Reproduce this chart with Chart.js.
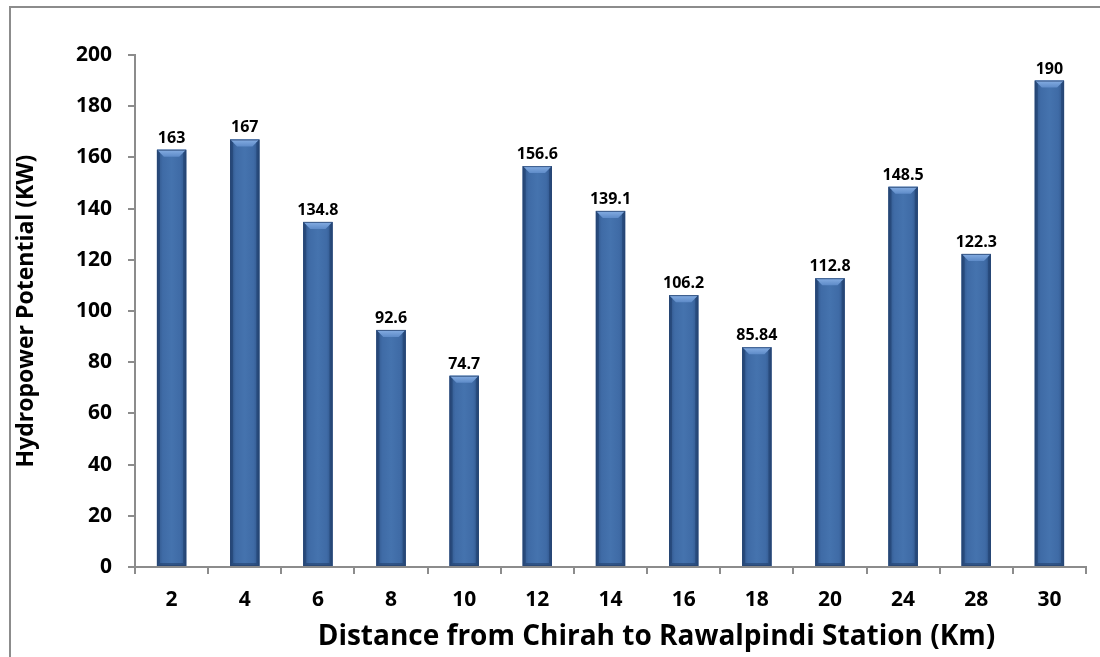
<!DOCTYPE html>
<html>
<head>
<meta charset="utf-8">
<script src="https://cdn.jsdelivr.net/npm/chart.js@4"></script>
<style>
  html, body { margin: 0; padding: 0; background: #fff; }
  #wrap { position: relative; width: 1100px; height: 657px; overflow: hidden; }
  #frame { position: absolute; left: 9px; top: 6px; width: 1200px; height: 800px;
           border-top: 2px solid #8c8c8c; border-left: 2px solid #8c8c8c; }
  canvas { position: absolute; left: 0; top: 0; }
</style>
</head>
<body>
<div id="wrap">
  <div id="frame"></div>
  <canvas id="chart" width="1100" height="657"></canvas>
</div>
<script>
const distances = ["2", "4", "6", "8", "10", "12", "14", "16", "18", "20", "24", "28", "30"];
const potential = [163, 167, 134.8, 92.6, 74.7, 156.6, 139.1, 106.2, 85.84, 112.8, 148.5, 122.3, 190];
const xTitle = "Distance from Chirah to Rawalpindi Station (Km)";

const FONT = "'Open Sans', Lato, sans-serif";

// bevelled look for each bar plus the value above it
const barStyle = {
    id: "barStyle",
    afterDatasetsDraw(chart) {
        const ctx = chart.ctx;
        const meta = chart.getDatasetMeta(0);
        meta.data.forEach(function (bar, i) {
            const left = bar.x - bar.width / 2;
            const right = bar.x + bar.width / 2;
            const top = bar.y;
            const bottom = bar.base;
            const w = bar.width;
            const b = 7;

            ctx.save();
            // body shading across the width
            const g = ctx.createLinearGradient(left, 0, right, 0);
            g.addColorStop(0, "#2f5488");
            g.addColorStop(0.2, "#3f6ba6");
            g.addColorStop(0.5, "#4573ae");
            g.addColorStop(0.8, "#3f6ba6");
            g.addColorStop(1, "#2f5488");
            ctx.fillStyle = g;
            ctx.fillRect(left, top, w, bottom - top);

            // top bevel
            const tg = ctx.createLinearGradient(0, top, 0, top + b);
            tg.addColorStop(0, "#86aee3");
            tg.addColorStop(1, "#5e8bc8");
            ctx.fillStyle = tg;
            ctx.beginPath();
            ctx.moveTo(left, top);
            ctx.lineTo(right, top);
            ctx.lineTo(right - b, top + b);
            ctx.lineTo(left + b, top + b);
            ctx.closePath();
            ctx.fill();

            // side bevels
            ctx.fillStyle = "rgba(30,60,105,0.55)";
            ctx.beginPath();
            ctx.moveTo(left, top);
            ctx.lineTo(left + 3, top + 3);
            ctx.lineTo(left + 3, bottom - 3);
            ctx.lineTo(left, bottom);
            ctx.closePath();
            ctx.fill();
            ctx.beginPath();
            ctx.moveTo(right, top);
            ctx.lineTo(right - 3, top + 3);
            ctx.lineTo(right - 3, bottom - 3);
            ctx.lineTo(right, bottom);
            ctx.closePath();
            ctx.fill();

            // bottom bevel
            ctx.fillStyle = "rgba(35,65,110,0.6)";
            ctx.beginPath();
            ctx.moveTo(left, bottom);
            ctx.lineTo(left + 3, bottom - 3);
            ctx.lineTo(right - 3, bottom - 3);
            ctx.lineTo(right, bottom);
            ctx.closePath();
            ctx.fill();

            ctx.strokeStyle = "rgba(40,70,115,0.8)";
            ctx.lineWidth = 1;
            ctx.strokeRect(left + 0.5, top + 0.5, w - 1, bottom - top - 1);

            // value label
            ctx.fillStyle = "#000";
            ctx.font = "bold 16px " + FONT;
            ctx.textAlign = "center";
            ctx.textBaseline = "alphabetic";
            ctx.fillText(String(potential[i]), bar.x, top - 7);
            ctx.restore();
        });
    },
    afterDraw(chart) {
        // x axis title sits a little right of the plot centre
        const ctx = chart.ctx;
        const area = chart.chartArea;
        ctx.save();
        ctx.fillStyle = "#000";
        ctx.font = "bold 28px " + FONT;
        ctx.textAlign = "center";
        ctx.textBaseline = "middle";
        ctx.fillText(xTitle, (area.left + area.right) / 2 + 46, area.bottom + 70);
        ctx.restore();
    }
};

const ctx = document.getElementById("chart").getContext("2d");

new Chart(ctx, {
    type: "bar",
    data: {
        labels: distances,
        datasets: [{
            data: potential,
            backgroundColor: "#3f6ba6",
            borderWidth: 0,
            barPercentage: 0.4,
            categoryPercentage: 1.0
        }]
    },
    options: {
        responsive: false,
        animation: false,
        layout: { padding: { top: 55, right: 14, bottom: 0, left: 0 } },
        plugins: {
            legend: { display: false },
            tooltip: { enabled: false }
        },
        scales: {
            x: {
                afterFit: function (scale) { scale.height = 90; },
                border: { color: "#8c8c8c", width: 2 },
                grid: {
                    offset: true,
                    drawOnChartArea: false,
                    drawTicks: true,
                    tickLength: 7,
                    color: "#8c8c8c",
                    lineWidth: 2
                },
                ticks: {
                    color: "#000",
                    padding: 13,
                    font: { family: FONT, size: 21, weight: "bold" }
                }
            },
            y: {
                min: 0,
                max: 200,
                afterFit: function (scale) { scale.width = 135; },
                border: { color: "#8c8c8c", width: 2 },
                grid: {
                    drawOnChartArea: false,
                    drawTicks: true,
                    tickLength: 7,
                    color: "#8c8c8c",
                    lineWidth: 2
                },
                ticks: {
                    stepSize: 20,
                    color: "#000",
                    padding: 16,
                    font: { family: FONT, size: 21, weight: "bold" }
                },
                title: {
                    display: true,
                    text: "Hydropower Potential (KW)",
                    color: "#000",
                    padding: { top: 13, bottom: 0 },
                    font: { family: FONT, size: 23, weight: "bold" }
                }
            }
        }
    },
    plugins: [barStyle]
});
</script>
</body>
</html>
